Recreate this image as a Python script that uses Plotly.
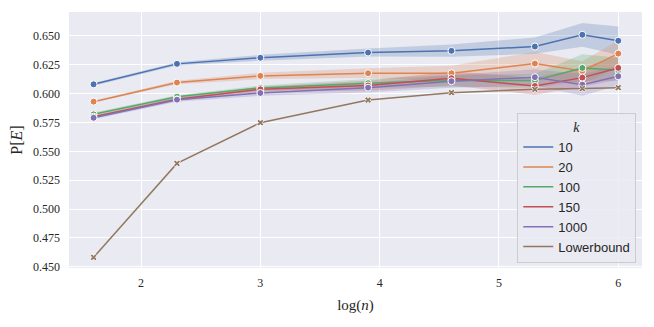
import plotly.graph_objects as go

log_n = [1.602, 2.301, 3.0, 3.903, 4.602, 5.301, 5.699, 6.0]

series_names = ["10", "20", "100", "150", "1000"]
mean_10 = [0.608, 0.6257, 0.631, 0.6355, 0.637, 0.6407, 0.6509, 0.6457]
mean_20 = [0.593, 0.6095, 0.6153, 0.6176, 0.6176, 0.626, 0.6196, 0.6346]
mean_100 = [0.582, 0.5973, 0.6049, 0.609, 0.6115, 0.6112, 0.6222, 0.6202]
mean_150 = [0.580, 0.595, 0.6037, 0.607, 0.6133, 0.6066, 0.6138, 0.6222]
mean_1000 = [0.579, 0.5947, 0.6005, 0.6051, 0.6107, 0.6142, 0.6077, 0.615]

lo_10 = [0.6068, 0.6242, 0.6285, 0.632, 0.6318, 0.6345, 0.6405, 0.6335]
hi_10 = [0.6092, 0.6272, 0.6335, 0.639, 0.6425, 0.6485, 0.661, 0.658]
lo_20 = [0.5922, 0.608, 0.6125, 0.6135, 0.611, 0.616, 0.608, 0.623]
hi_20 = [0.5938, 0.611, 0.618, 0.622, 0.624, 0.636, 0.628, 0.646]
lo_100 = [0.5805, 0.596, 0.6025, 0.605, 0.606, 0.605, 0.611, 0.611]
hi_100 = [0.5835, 0.5985, 0.607, 0.6125, 0.616, 0.617, 0.634, 0.631]
lo_150 = [0.5788, 0.5935, 0.6015, 0.6025, 0.607, 0.599, 0.606, 0.612]
hi_150 = [0.5812, 0.5965, 0.606, 0.611, 0.619, 0.614, 0.622, 0.633]
lo_1000 = [0.5778, 0.593, 0.598, 0.601, 0.605, 0.607, 0.598, 0.607]
hi_1000 = [0.5802, 0.5965, 0.603, 0.609, 0.616, 0.621, 0.617, 0.624]

lowerbound = [0.4582, 0.5395, 0.5748, 0.5944, 0.6008, 0.6037, 0.6043, 0.6051]

x_ticks = [2, 3, 4, 5, 6]
y_ticks = [0.450, 0.475, 0.500, 0.525, 0.550, 0.575, 0.600, 0.625, 0.650]
y_tick_labels = ["0.450", "0.475", "0.500", "0.525", "0.550", "0.575", "0.600", "0.625", "0.650"]

colors = ["#4c72b0", "#dd8452", "#55a868", "#c44e52", "#8172b3"]
fills = ["rgba(76,114,176,0.25)", "rgba(221,132,82,0.25)", "rgba(85,168,104,0.25)",
         "rgba(196,78,82,0.25)", "rgba(129,114,179,0.25)"]
lb_color = "#937860"

means = [mean_10, mean_20, mean_100, mean_150, mean_1000]
los = [lo_10, lo_20, lo_100, lo_150, lo_1000]
his = [hi_10, hi_20, hi_100, hi_150, hi_1000]

fig = go.Figure()

for name, m, lo, hi, c, f in zip(series_names, means, los, his, colors, fills):
    fig.add_trace(go.Scatter(x=log_n + log_n[::-1], y=hi + lo[::-1], fill="toself",
                             fillcolor=f, line=dict(width=0), mode="lines",
                             hoverinfo="skip", showlegend=False))

for name, m, c in zip(series_names, means, colors):
    fig.add_trace(go.Scatter(x=log_n, y=m, mode="lines+markers", name=name,
                             line=dict(color=c, width=1.5),
                             marker=dict(symbol="circle", size=7, color=c,
                                         line=dict(color="white", width=1)),
                             showlegend=False))

fig.add_trace(go.Scatter(x=log_n, y=lowerbound, mode="lines+markers", name="Lowerbound",
                         line=dict(color=lb_color, width=1.5),
                         marker=dict(symbol="x", size=6, color=lb_color,
                                     line=dict(color="white", width=0.8)),
                         showlegend=False))

for name, c in zip(series_names + ["Lowerbound"], colors + [lb_color]):
    fig.add_trace(go.Scatter(x=[None], y=[None], mode="lines", name=name,
                             line=dict(color=c, width=1.5), showlegend=True))

# page body has an 8px margin; size figure so it fits in the 654x327 window
fig.update_layout(
    width=646, height=319,
    margin=dict(l=61, r=12, t=4, b=59),
    paper_bgcolor="white",
    plot_bgcolor="#eaeaf2",
    font=dict(family="Liberation Serif", size=12, color="#262626"),
    legend=dict(
        title=dict(text="<i>k</i>", side="top center",
                   font=dict(family="Liberation Serif", size=14, color="#262626")),
        font=dict(family="Liberation Sans", size=13, color="#262626"),
        x=0.99, xanchor="right", y=0.02, yanchor="bottom",
        bgcolor="rgba(234,234,242,0.85)", bordercolor="#cccccc", borderwidth=1,
        tracegroupgap=0, itemwidth=30,
    ),
    xaxis=dict(
        range=[1.396, 6.199], tickvals=x_ticks, ticktext=[str(t) for t in x_ticks],
        showgrid=True, gridcolor="white", gridwidth=1, zeroline=False,
        showline=False, ticks="", ticklabelstandoff=6,
        tickfont=dict(family="Liberation Serif", size=12, color="#262626"),
        title=dict(text="log(<i>n</i>)", standoff=10,
                   font=dict(family="Liberation Serif", size=15, color="#262626")),
    ),
    yaxis=dict(
        range=[0.449, 0.6706], tickvals=y_ticks, ticktext=y_tick_labels,
        showgrid=True, gridcolor="white", gridwidth=1, zeroline=False,
        showline=False, ticks="", ticklabelstandoff=8,
        tickfont=dict(family="Liberation Serif", size=12, color="#262626"),
        title=dict(text="P[<i>E</i>]", standoff=10,
                   font=dict(family="Liberation Serif", size=16, color="#262626")),
    ),
)

fig.write_html("out.html")
